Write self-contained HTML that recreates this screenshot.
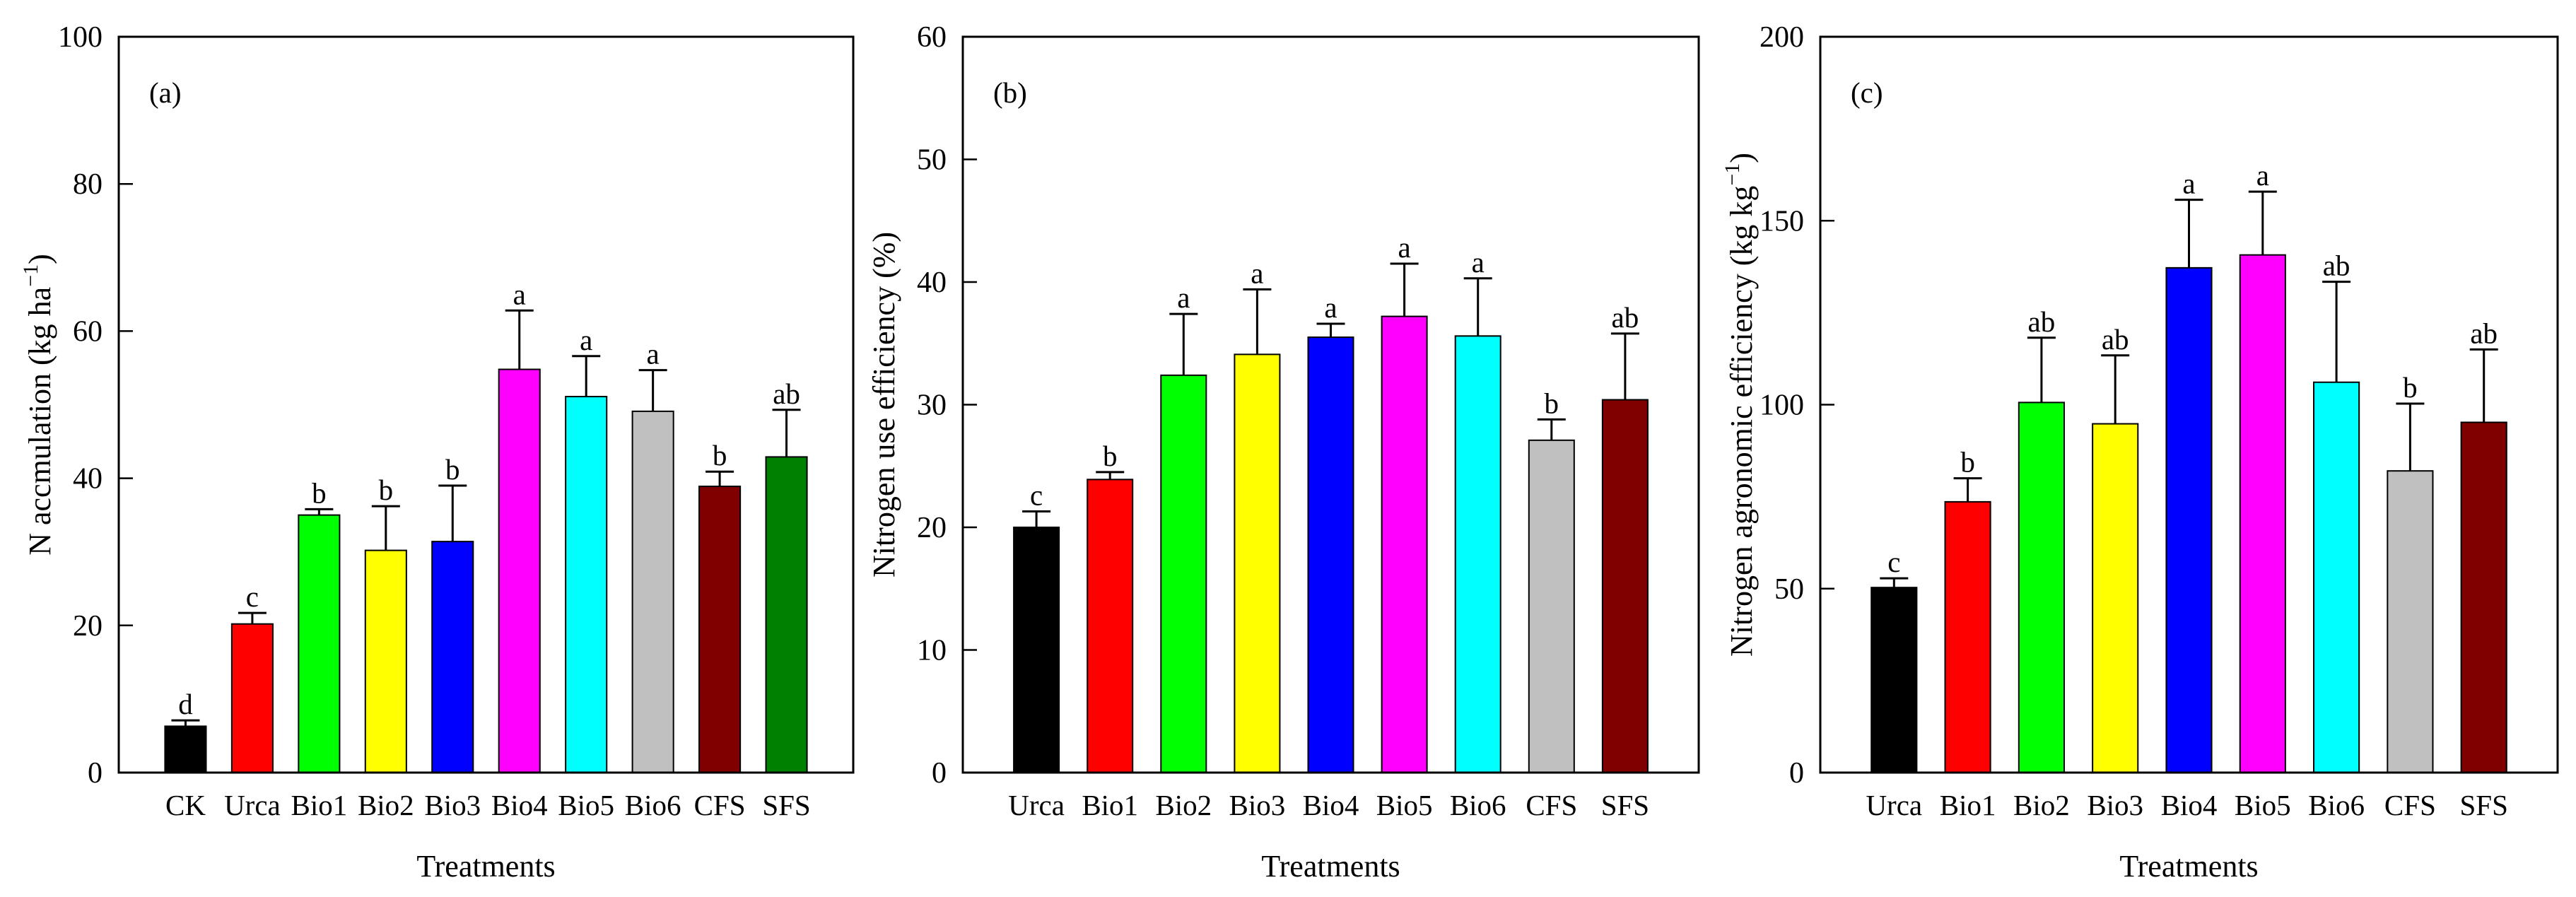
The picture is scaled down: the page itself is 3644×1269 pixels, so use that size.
<!DOCTYPE html>
<html><head><meta charset="utf-8"><style>
html,body{margin:0;padding:0;background:#fff;}
svg{display:block;font-family:"Liberation Serif","Times New Roman",serif;}
</style></head><body>
<svg id="fig" width="3644" height="1269" viewBox="0 0 3644 1269" xmlns="http://www.w3.org/2000/svg"></svg>
<script>
// Panel (a): N accumulation
const catsA = ["CK","Urca","Bio1","Bio2","Bio3","Bio4","Bio5","Bio6","CFS","SFS"];
const valsA = [6.3,20.2,35.0,30.2,31.4,54.8,51.1,49.1,38.9,42.9];
const errsA = [0.8,1.5,0.8,6.0,7.6,8.0,5.5,5.6,2.0,6.4];
const letsA = ["d","c","b","b","b","a","a","a","b","ab"];
const colsA = ["#000000","#ff0000","#00ff00","#ffff00","#0000ff","#ff00ff","#00ffff","#c0c0c0","#800000","#008000"];
const ticksA = [0,20,40,60,80,100];
// Panel (b): Nitrogen use efficiency
const catsB = ["Urca","Bio1","Bio2","Bio3","Bio4","Bio5","Bio6","CFS","SFS"];
const valsB = [20.0,23.9,32.4,34.1,35.5,37.2,35.6,27.1,30.4];
const errsB = [1.3,0.6,5.0,5.3,1.1,4.3,4.7,1.7,5.4];
const letsB = ["c","b","a","a","a","a","a","b","ab"];
const colsB = ["#000000","#ff0000","#00ff00","#ffff00","#0000ff","#ff00ff","#00ffff","#c0c0c0","#800000"];
const ticksB = [0,10,20,30,40,50,60];
// Panel (c): Nitrogen agronomic efficiency
const catsC = ["Urca","Bio1","Bio2","Bio3","Bio4","Bio5","Bio6","CFS","SFS"];
const valsC = [50.3,73.6,100.6,94.8,137.2,140.7,106.1,82.0,95.2];
const errsC = [2.5,6.4,17.6,18.6,18.5,17.2,27.3,18.3,19.8];
const letsC = ["c","b","ab","ab","a","a","ab","b","ab"];
const colsC = ["#000000","#ff0000","#00ff00","#ffff00","#0000ff","#ff00ff","#00ffff","#c0c0c0","#800000"];
const ticksC = [0,50,100,150,200];

const NS="http://www.w3.org/2000/svg";
const svg=document.getElementById('fig');
function mk(tag,attrs,parent){const e=document.createElementNS(NS,tag);for(const k in attrs)e.setAttribute(k,attrs[k]);(parent||svg).appendChild(e);return e;}

function panel(id,L,R,T,B,cats,vals,errs,lets,cols,ticks,ymax,tag,title,sup){
  const g=mk('g',{});
  
  
  const y=v=>B-(v/ymax)*(B-T);
  const n=cats.length, slot=(R-L)/(n+1), bw=slot*0.615;
  const x=i=>L+slot*(i+1);
  for(let i=0;i<n;i++){
    const top=y(vals[i]);
    const r=mk('rect',{x:x(i)-bw/2,y:top,width:bw,height:B-top,fill:cols[i],stroke:'#000','stroke-width':2},g);
    
    
    const ye=y(vals[i]+errs[i]);
    const eb=mk('path',{d:`M${x(i)} ${top} V${ye} M${x(i)-20} ${ye} H${x(i)+20}`,stroke:'#000','stroke-width':3,fill:'none'},g);
    
    
    const lt=mk('text',{x:x(i),y:ye-9,'text-anchor':'middle','font-size':41},g);
    lt.textContent=lets[i];
    
    
    const cl=mk('text',{x:x(i),y:1153,'text-anchor':'middle','font-size':41},g);
    cl.textContent=cats[i];
    
    
  }
  const fr=mk('rect',{x:L,y:T,width:R-L,height:B-T,fill:'none',stroke:'#000','stroke-width':3},g);
  
  
  ticks.forEach(t=>{
    const tl=mk('line',{x1:L,x2:L+20,y1:y(t),y2:y(t),stroke:'#000','stroke-width':2.5},g);
    
    
    const tt=mk('text',{x:L-23,y:y(t)+14,'text-anchor':'end','font-size':42},g);
    tt.textContent=t;
    
    
  });
  const pl=mk('text',{x:L+43,y:145,'font-size':41},g);
  pl.textContent=tag;
  
  
  const xt=mk('text',{x:(L+R)/2,y:1240,'text-anchor':'middle','font-size':44},g);
  xt.textContent='Treatments';
  
  
  const cx=L-112, cy=(T+B)/2;
  const yt=mk('text',{x:cx,y:cy,'text-anchor':'middle','font-size':44,transform:`rotate(-90 ${cx} ${cy})`,dy:15},g);
  
  
  const s1=mk('tspan',{},yt); s1.textContent=title;
  if(sup){
    const s2=mk('tspan',{dy:-18,'font-size':30},yt); s2.textContent='−1';
    const s3=mk('tspan',{dy:18},yt); s3.textContent=')';
  }
}
panel('a',168,1207,52,1093,catsA,valsA,errsA,letsA,colsA,ticksA,100,'(a)','N accmulation (kg ha',true);
panel('b',1362,2403,52,1093,catsB,valsB,errsB,letsB,colsB,ticksB,60,'(b)','Nitrogen use efficiency (%)',false);
panel('c',2575,3618,52,1093,catsC,valsC,errsC,letsC,colsC,ticksC,200,'(c)','Nitrogen agronomic efficiency (kg kg',true);
</script>
</body></html>
